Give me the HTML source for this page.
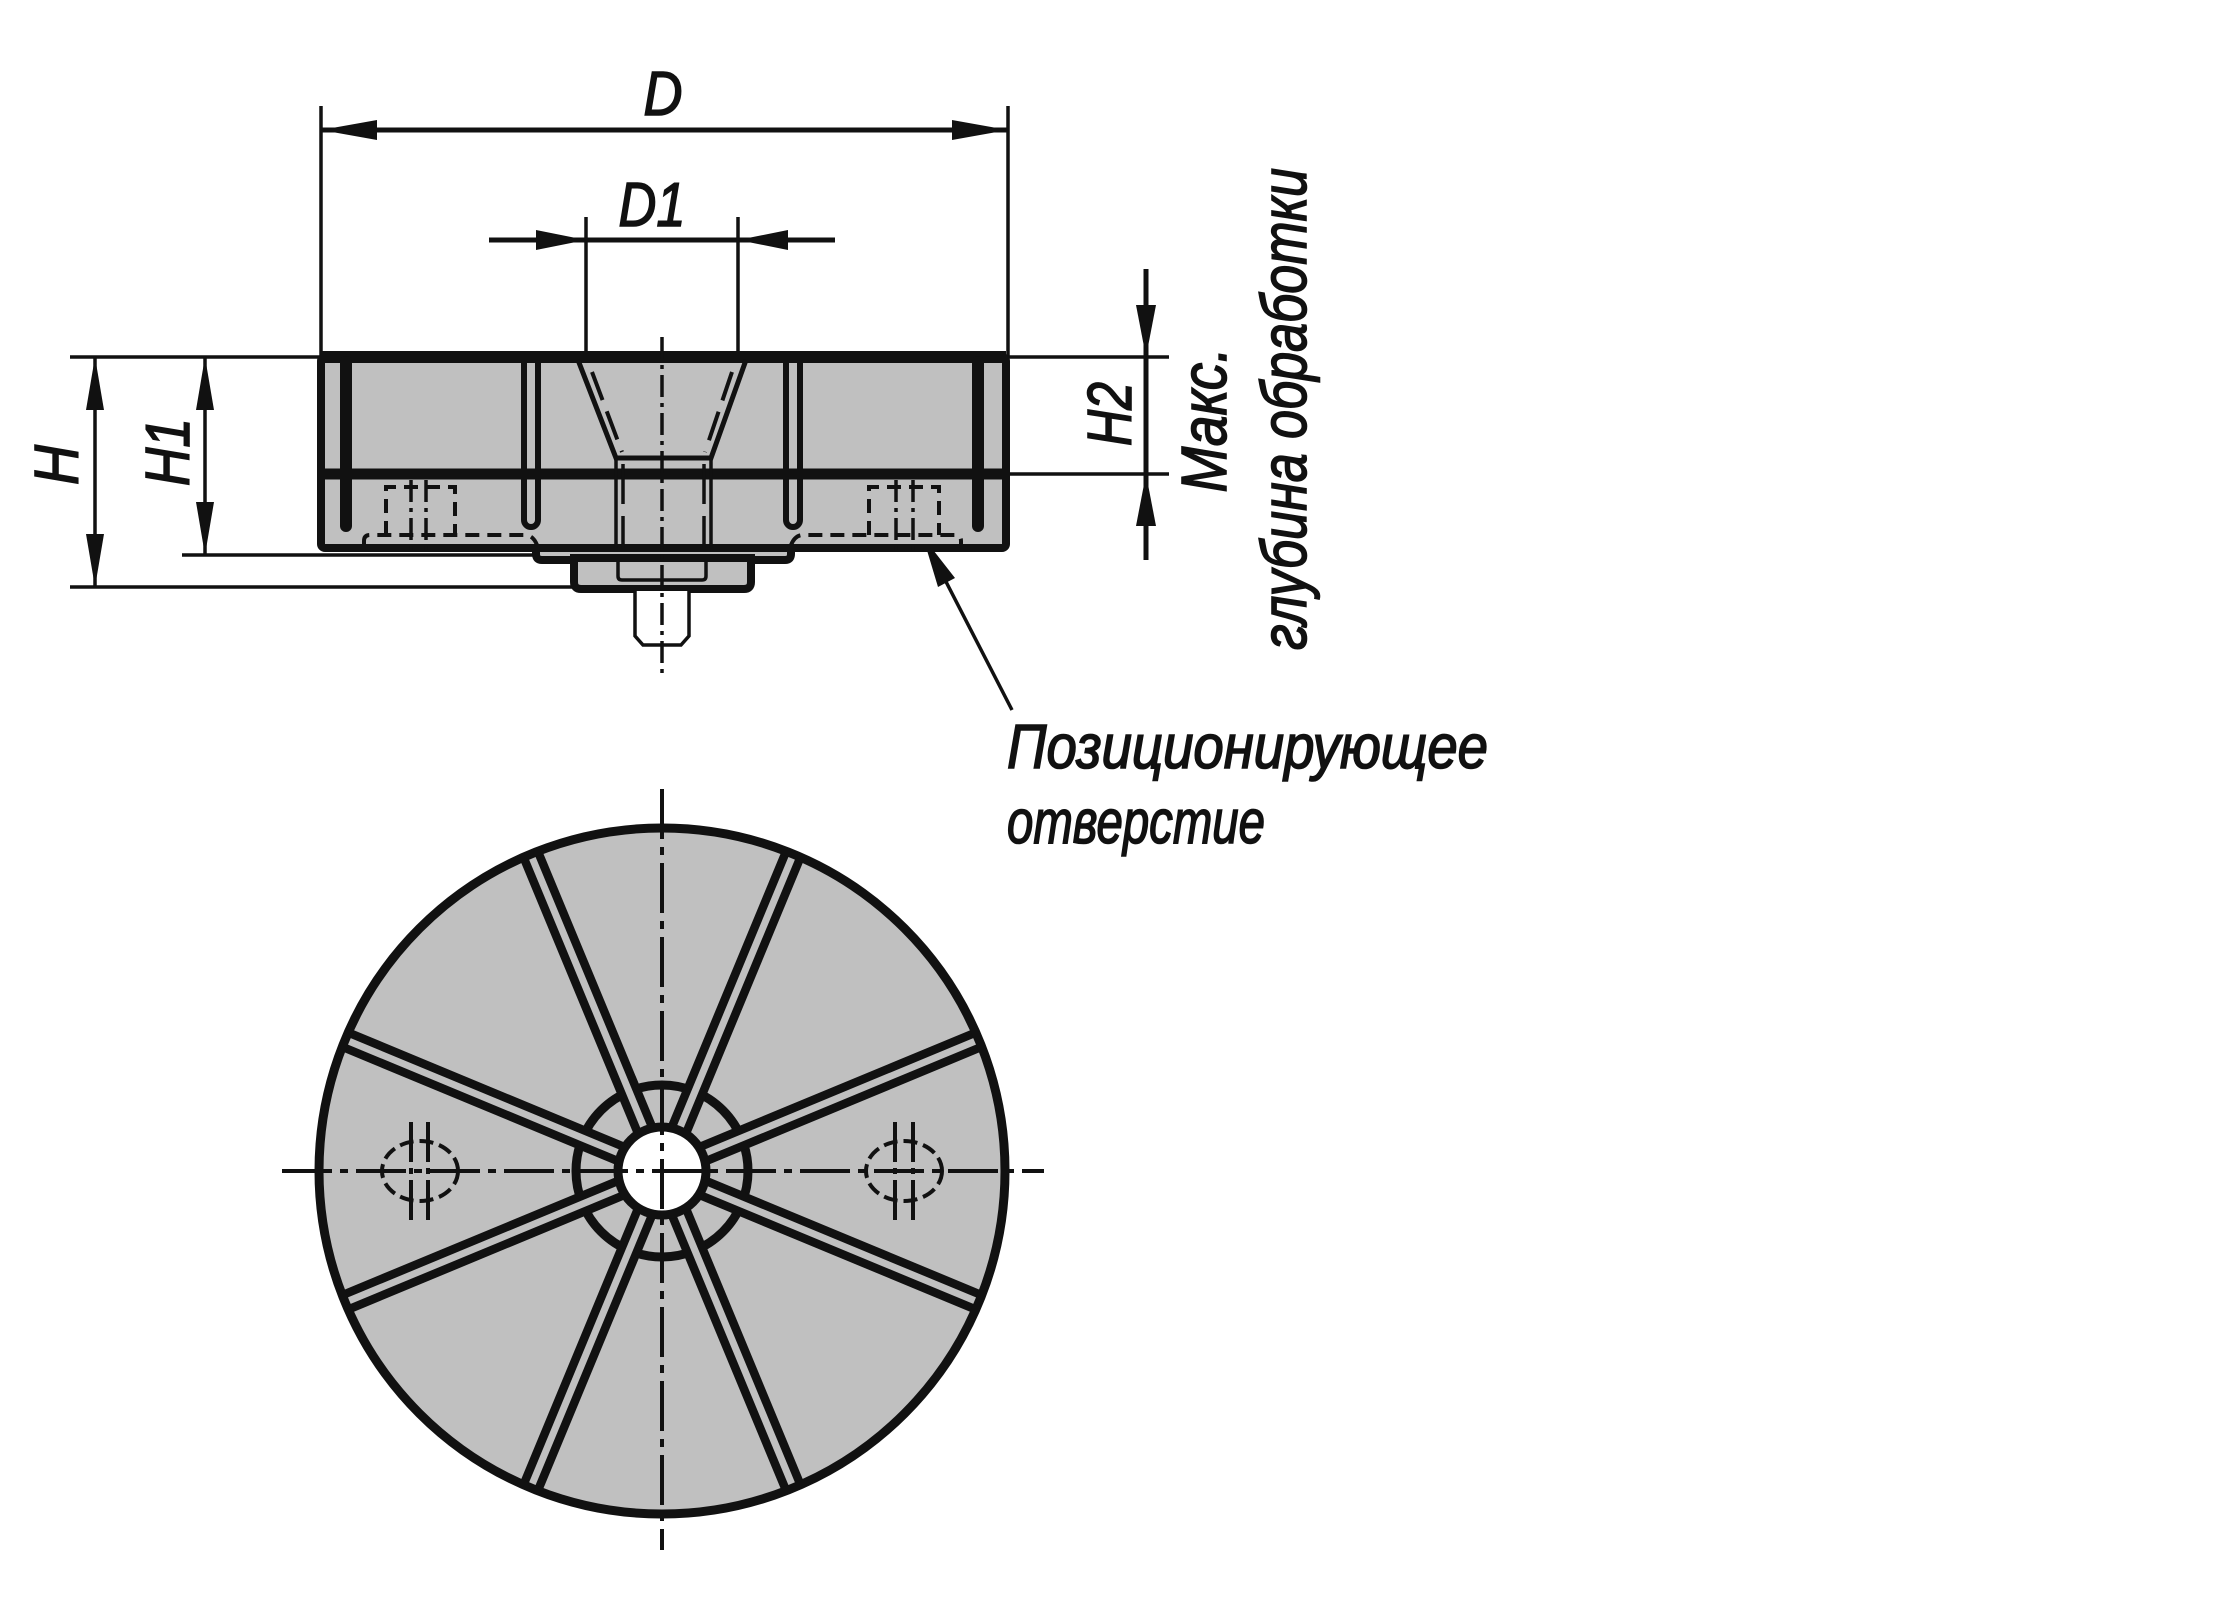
<!DOCTYPE html>
<html><head><meta charset="utf-8"><style>html,body{margin:0;padding:0;background:#fff}svg{display:block}text{font-family:"Liberation Sans",sans-serif;font-style:italic;fill:#111;stroke:#111;stroke-width:1.6}</style></head>
<body>
<svg width="2220" height="1612" viewBox="0 0 2220 1612" xmlns="http://www.w3.org/2000/svg">
<defs><clipPath id="cc"><circle cx="662" cy="1171" r="343"/></clipPath></defs>
<g stroke="#111" fill="none" stroke-width="3.5">
<line x1="321" y1="106" x2="321" y2="357"/>
<line x1="1008" y1="106" x2="1008" y2="357"/>
<line x1="321" y1="130" x2="1008" y2="130" stroke-width="5"/>
<line x1="586" y1="217" x2="586" y2="357"/>
<line x1="738" y1="217" x2="738" y2="357"/>
<line x1="489" y1="240" x2="835" y2="240" stroke-width="5"/>
<line x1="70" y1="357" x2="321" y2="357"/>
<line x1="182" y1="555" x2="536" y2="555"/>
<line x1="70" y1="587" x2="574" y2="587"/>
<line x1="95" y1="357" x2="95" y2="587"/>
<line x1="205" y1="357" x2="205" y2="555"/>
<line x1="1006" y1="357" x2="1169" y2="357"/>
<line x1="1006" y1="474" x2="1169" y2="474"/>
<line x1="1146" y1="269" x2="1146" y2="560" stroke-width="5"/>
<line x1="1012" y1="710" x2="923" y2="537"/>
</g>
<g fill="#111">
<polygon points="321,130 377,120 377,140"/><polygon points="1008,130 952,120 952,140"/>
<polygon points="586,240 536,230 536,250"/><polygon points="738,240 788,230 788,250"/>
<polygon points="95,357 86,410 104,410"/><polygon points="95,587 86,534 104,534"/>
<polygon points="205,357 196,410 214,410"/><polygon points="205,555 196,502 214,502"/>
<polygon points="1146,357 1136,305 1156,305"/><polygon points="1146,474 1136,526 1156,526"/>
<polygon points="923,537 938,587 955,578"/>
</g>
<g stroke="#111" stroke-width="8" fill="#c0c0c0">
<path d="M536,545 V554 Q536,560 542,560 H785 Q791,560 791,554 V545 Z"/>
<path d="M574,558 V582 Q574,589 581,589 H744 Q751,589 751,582 V558 Z"/>
<rect x="321" y="357" width="685" height="191" rx="4"/>
</g>
<path d="M635,591 V636 L643,645 H681 L689,636 V591" stroke="#111" stroke-width="3.5" fill="#fff"/>
<g stroke="#111" fill="none">
<line x1="321" y1="357" x2="1006" y2="357" stroke-width="12"/>
<line x1="321" y1="474" x2="1006" y2="474" stroke-width="11"/>
<line x1="346" y1="362" x2="346" y2="526" stroke-width="12" stroke-linecap="round"/>
<line x1="978" y1="362" x2="978" y2="526" stroke-width="12" stroke-linecap="round"/>
<path d="M524,360 V520 A7,7 0 0 0 538,520 V360" stroke-width="6"/>
<path d="M786,360 V520 A7,7 0 0 0 800,520 V360" stroke-width="6"/>
<path d="M578,360 L616,458 H711 L746,360" stroke-width="5"/>
<path d="M592,372 L622,452 M732,372 L705,452" stroke-width="4" stroke-dasharray="30,12"/>
<path d="M616,458 V548 M711,458 V548" stroke-width="3.5"/>
<path d="M623,464 V548 M704,464 V548" stroke-width="3.5" stroke-dasharray="40,12"/>
<path d="M618,560 V576 Q618,580 622,580 H702 Q706,580 706,576 V560" stroke-width="3.5"/>
<g stroke-width="4" stroke-dasharray="14,8">
<path d="M364,546 V541 Q364,535 370,535 H525 Q533,535 537,545"/>
<path d="M791,545 Q795,535 803,535 H955 Q961,535 961,541 V546"/>
<path d="M386,535 V487 H455 V535"/>
<path d="M869,535 V487 H939 V535"/>
</g>
<g stroke-width="3.5" stroke-dasharray="22,6,4,6">
<path d="M411,480 V556 M426,480 V556 M896,480 V556 M913,480 V556"/>
<line x1="662" y1="337" x2="662" y2="676"/>
</g>
</g>
<circle cx="662" cy="1171" r="343" fill="#c0c0c0"/>
<circle cx="662" cy="1171" r="86" fill="none" stroke="#111" stroke-width="9"/>
<g clip-path="url(#cc)" stroke-linecap="butt">
<g stroke="#111" stroke-width="24">
<line x1="698.9" y1="1155.7" x2="1031" y2="1018"/><line x1="677.3" y1="1134.1" x2="815" y2="802"/>
<line x1="646.7" y1="1134.1" x2="509" y2="802"/><line x1="625.1" y1="1155.7" x2="293" y2="1018"/>
<line x1="625.1" y1="1186.3" x2="293" y2="1324"/><line x1="646.7" y1="1207.9" x2="509" y2="1540"/>
<line x1="677.3" y1="1207.9" x2="815" y2="1540"/><line x1="698.9" y1="1186.3" x2="1031" y2="1324"/>
</g>
<g stroke="#c0c0c0" stroke-width="7">
<line x1="698.9" y1="1155.7" x2="1031" y2="1018"/><line x1="677.3" y1="1134.1" x2="815" y2="802"/>
<line x1="646.7" y1="1134.1" x2="509" y2="802"/><line x1="625.1" y1="1155.7" x2="293" y2="1018"/>
<line x1="625.1" y1="1186.3" x2="293" y2="1324"/><line x1="646.7" y1="1207.9" x2="509" y2="1540"/>
<line x1="677.3" y1="1207.9" x2="815" y2="1540"/><line x1="698.9" y1="1186.3" x2="1031" y2="1324"/>
</g>
</g>
<circle cx="662" cy="1171" r="343" fill="none" stroke="#111" stroke-width="9"/>
<circle cx="662" cy="1171" r="44" fill="#fff" stroke="#111" stroke-width="9"/>
<g stroke="#111" stroke-width="4" fill="none">
<line x1="282" y1="1171" x2="1044" y2="1171" stroke-dasharray="50,8,8,8"/>
<line x1="662" y1="789" x2="662" y2="1550" stroke-dasharray="50,8,8,8"/>
<ellipse cx="420" cy="1171" rx="38" ry="30" stroke-dasharray="14,6"/>
<ellipse cx="904" cy="1171" rx="38" ry="30" stroke-dasharray="14,6"/>
<path d="M411,1122 V1220 M428,1122 V1220 M895,1122 V1220 M913,1122 V1220" stroke-dasharray="40,6,6,6"/>
</g>
<text x="663" y="115" font-size="62" text-anchor="middle" textLength="39" lengthAdjust="spacingAndGlyphs">D</text>
<text x="652" y="226" font-size="62" text-anchor="middle" textLength="67" lengthAdjust="spacingAndGlyphs">D1</text>
<text transform="translate(78,465) rotate(-90)" font-size="62" text-anchor="middle" textLength="40" lengthAdjust="spacingAndGlyphs">H</text>
<text transform="translate(189,452) rotate(-90)" font-size="62" text-anchor="middle" textLength="68" lengthAdjust="spacingAndGlyphs">H1</text>
<text transform="translate(1131,414) rotate(-90)" font-size="62" text-anchor="middle" textLength="64" lengthAdjust="spacingAndGlyphs">H2</text>
<text transform="translate(1226,420) rotate(-90)" font-size="64" text-anchor="middle" textLength="145" lengthAdjust="spacingAndGlyphs">Макс.</text>
<text transform="translate(1306,409) rotate(-90)" font-size="64" text-anchor="middle" textLength="482" lengthAdjust="spacingAndGlyphs">глубина обработки</text>
<text x="1007" y="768" font-size="62" textLength="481" lengthAdjust="spacingAndGlyphs">Позиционирующее</text>
<text x="1007" y="843" font-size="62" textLength="258" lengthAdjust="spacingAndGlyphs">отверстие</text>
</svg>
</body></html>
